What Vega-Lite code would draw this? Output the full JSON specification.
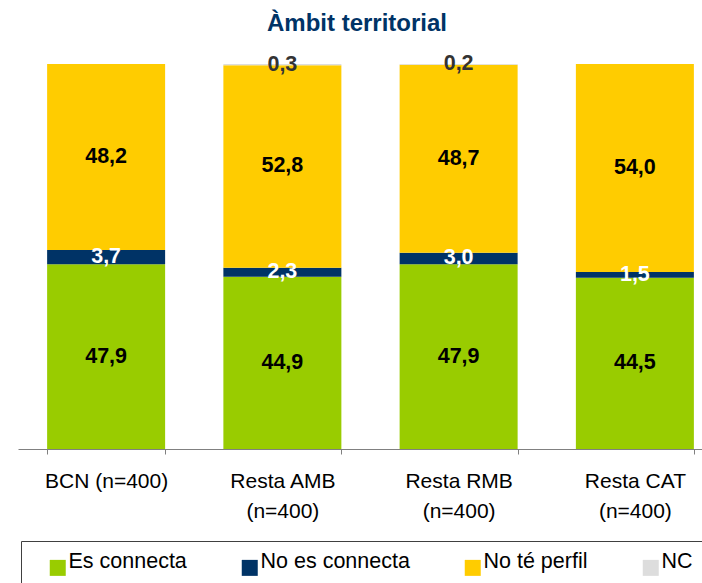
{
  "$schema": "https://vega.github.io/schema/vega-lite/v6.json",
  "autosize": {"type": "none"},
  "width": 684,
  "height": 385,
  "padding": {"left": 18, "top": 64, "right": 0, "bottom": 134},
  "background": "white",
  "config": {"view": {"stroke": null}},
  "title": {
    "text": "Àmbit territorial",
    "font": "Liberation Sans",
    "fontSize": 24,
    "fontWeight": "bold",
    "color": "#003366",
    "anchor": "middle",
    "frame": "group",
    "baseline": "alphabetic",
    "offset": 0,
    "dy": 2,
    "dx": -3
  },
  "data": {
    "values": [
      {"cat": "BCN (n=400)", "s": "Es connecta", "k": 1, "v": 47.9},
      {"cat": "BCN (n=400)", "s": "No es connecta", "k": 2, "v": 3.7},
      {"cat": "BCN (n=400)", "s": "No té perfil", "k": 3, "v": 48.2},
      {"cat": "Resta AMB|(n=400)", "s": "Es connecta", "k": 1, "v": 44.9},
      {"cat": "Resta AMB|(n=400)", "s": "No es connecta", "k": 2, "v": 2.3},
      {"cat": "Resta AMB|(n=400)", "s": "No té perfil", "k": 3, "v": 52.8},
      {"cat": "Resta AMB|(n=400)", "s": "NC", "k": 4, "v": 0.3},
      {"cat": "Resta RMB|(n=400)", "s": "Es connecta", "k": 1, "v": 47.9},
      {"cat": "Resta RMB|(n=400)", "s": "No es connecta", "k": 2, "v": 3.0},
      {"cat": "Resta RMB|(n=400)", "s": "No té perfil", "k": 3, "v": 48.7},
      {"cat": "Resta RMB|(n=400)", "s": "NC", "k": 4, "v": 0.2},
      {"cat": "Resta CAT|(n=400)", "s": "Es connecta", "k": 1, "v": 44.5},
      {"cat": "Resta CAT|(n=400)", "s": "No es connecta", "k": 2, "v": 1.5},
      {"cat": "Resta CAT|(n=400)", "s": "No té perfil", "k": 3, "v": 54.0}
    ]
  },
  "transform": [
    {"stack": "v", "groupby": ["cat"], "sort": [{"field": "k", "order": "ascending"}], "offset": "normalize", "as": ["y0", "y1"]},
    {"calculate": "(datum.y0 + datum.y1) / 2", "as": "ym"},
    {"calculate": "replace(format(datum.v, '.1f'), '.', ',')", "as": "lab"}
  ],
  "encoding": {
    "x": {
      "field": "cat",
      "type": "nominal",
      "sort": null,
      "scale": {"range": [0, 705], "paddingInner": 0.3305, "paddingOuter": 0.1652},
      "axis": {
        "title": null,
        "labelAngle": 0,
        "labelFont": "Liberation Sans",
        "labelFontSize": 21,
        "labelColor": "black",
        "labelBaseline": "top",
        "labelPadding": 16,
        "labelLineHeight": 30,
        "labelLimit": 0,
        "labelExpr": "split(datum.label, '|')",
        "tickBand": "extent",
        "tickSize": 5,
        "tickColor": "#808080",
        "domainColor": "#808080",
        "grid": false
      }
    }
  },
  "layer": [
    {
      "mark": {"type": "bar"},
      "encoding": {
        "y": {"field": "y0", "type": "quantitative", "scale": {"domain": [0, 1], "nice": false}, "axis": null},
        "y2": {"field": "y1"},
        "color": {
          "field": "s",
          "type": "nominal",
          "scale": {
            "domain": ["Es connecta", "No es connecta", "No té perfil", "NC"],
            "range": ["#99CC00", "#003366", "#FFCC00", "#DDDDDD"]
          },
          "legend": {
            "orient": "none",
            "legendX": 3,
            "legendY": 477,
            "direction": "horizontal",
            "title": " ",
            "titleOrient": "left",
            "titleFontSize": 4,
            "titlePadding": 10,
            "padding": 16,
            "strokeColor": "#404040",
            "symbolType": "square",
            "symbolSize": 256,
            "symbolStrokeWidth": 0,
            "labelFont": "Liberation Sans",
            "labelFontSize": 21.5,
            "labelColor": "black",
            "labelOffset": 0,
            "labelBaseline": "alphabetic",
            "labelLimit": 300,
            "columnPadding": 52
          }
        }
      }
    },
    {
      "mark": {"type": "text", "font": "Liberation Sans", "fontSize": 21.5, "fontWeight": "bold"},
      "encoding": {
        "y": {"field": "ym", "type": "quantitative"},
        "text": {"field": "lab"},
        "color": {
          "condition": [
            {"test": "datum.s === 'No es connecta'", "value": "white"},
            {"test": "datum.s === 'NC'", "value": "#333333"}
          ],
          "value": "black"
        }
      }
    }
  ]
}
